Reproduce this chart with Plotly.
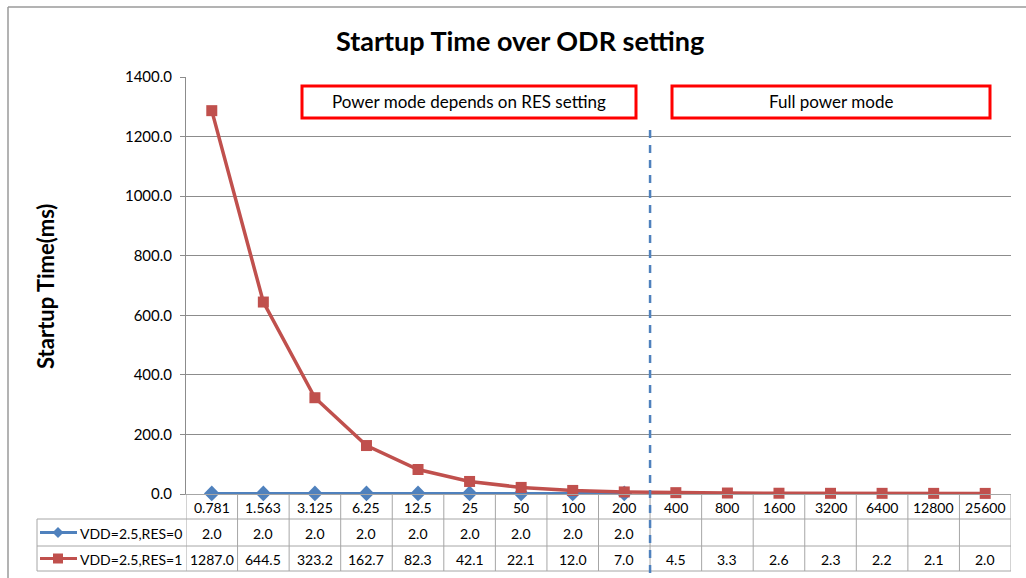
import plotly.graph_objects as go

# ---- data ----
odr_labels = ["0.781", "1.563", "3.125", "6.25", "12.5", "25", "50", "100", "200",
              "400", "800", "1600", "3200", "6400", "12800", "25600"]
res0_values = [2.0, 2.0, 2.0, 2.0, 2.0, 2.0, 2.0, 2.0, 2.0,
               None, None, None, None, None, None, None]
res1_values = [1287.0, 644.5, 323.2, 162.7, 82.3, 42.1, 22.1, 12.0, 7.0,
               4.5, 3.3, 2.6, 2.3, 2.2, 2.1, 2.0]
series_names = ["VDD=2.5,RES=0", "VDD=2.5,RES=1"]
y_ticks = [0, 200, 400, 600, 800, 1000, 1200, 1400]
mode_split_index = 8.5  # between ODR 200 and 400

W, H = 1026, 578
L, R, T, B = 186, 15, 77, 84
PW, PH = W - L - R, H - T - B
FONT = "Lato"
BLUE = "#4F81BD"
RED = "#C0504D"
GRID = "#8C8C8C"
TBL = "#A6A6A6"


def px(x):
    return (x - L) / PW


def py(y):
    return (H - B - y) / PH


xs = list(range(len(odr_labels)))

fig = go.Figure()
fig.add_trace(go.Scatter(
    x=xs, y=res0_values, name=series_names[0], mode="lines+markers",
    line=dict(color=BLUE, width=3),
    marker=dict(symbol="diamond", size=12, color=BLUE),
    connectgaps=False, cliponaxis=False))
fig.add_trace(go.Scatter(
    x=xs, y=res1_values, name=series_names[1], mode="lines+markers",
    line=dict(color=RED, width=3.5),
    marker=dict(symbol="square", size=11, color=RED),
    cliponaxis=False))

shapes = []
annotations = []


def ann(**kw):
    base = dict(showarrow=False, xanchor="center", yanchor="middle")
    base.update(kw)
    annotations.append(base)


# table geometry (pixels)
row_top = H - B          # axis line
row1_bot = 519
row2_bot = 546
row3_bot = 571
leg_left = 37

# vertical lines at category boundaries
for i in range(len(odr_labels) + 1):
    shapes.append(dict(type="line", xref="x", yref="paper",
                       x0=i - 0.5, x1=i - 0.5, y0=py(row_top), y1=py(row3_bot),
                       line=dict(color=TBL, width=1)))
# legend column left border
shapes.append(dict(type="line", xref="paper", yref="paper",
                   x0=px(leg_left), x1=px(leg_left), y0=py(row1_bot), y1=py(row3_bot),
                   line=dict(color=TBL, width=1)))
# horizontal table lines
for yy in (row1_bot, row2_bot, row3_bot):
    shapes.append(dict(type="line", xref="paper", yref="paper",
                       x0=px(leg_left), x1=1, y0=py(yy), y1=py(yy),
                       line=dict(color=TBL, width=1)))

# header labels + values
hdr_y = py((row_top + row1_bot) / 2 + 1)
r0_y = py((row1_bot + row2_bot) / 2 + 1)
r1_y = py((row2_bot + row3_bot) / 2 + 1)
cell_font = dict(family=FONT, size=14, color="black")
for i, lab in enumerate(odr_labels):
    ann(x=i, y=hdr_y, xref="x", yref="paper", text=lab, font=cell_font)
    if res0_values[i] is not None:
        ann(x=i, y=r0_y, xref="x", yref="paper", text=f"{res0_values[i]:.1f}", font=cell_font)
    if res1_values[i] is not None:
        ann(x=i, y=r1_y, xref="x", yref="paper", text=f"{res1_values[i]:.1f}", font=cell_font)

# legend keys inside table
for name, color, yc, sym in ((series_names[0], BLUE, (row1_bot + row2_bot) / 2, "diamond"),
                             (series_names[1], RED, (row2_bot + row3_bot) / 2, "square")):
    shapes.append(dict(type="line", xref="paper", yref="paper",
                       x0=px(40), x1=px(77), y0=py(yc), y1=py(yc),
                       line=dict(color=color, width=3)))
    cx = 58
    if sym == "diamond":
        s = 5.5
        path = (f"M {px(cx - s)} {py(yc)} L {px(cx)} {py(yc - s)} "
                f"L {px(cx + s)} {py(yc)} L {px(cx)} {py(yc + s)} Z")
        shapes.append(dict(type="path", xref="paper", yref="paper", path=path,
                           fillcolor=color, line=dict(color=color, width=0)))
    else:
        s = 5
        shapes.append(dict(type="rect", xref="paper", yref="paper",
                           x0=px(cx - s), x1=px(cx + s), y0=py(yc - s), y1=py(yc + s),
                           fillcolor=color, line=dict(color=color, width=0)))
    ann(x=px(78), y=py(yc + 1), xref="paper", yref="paper",
        xanchor="left", text=name, font=cell_font)

# vertical dashed split line
shapes.append(dict(type="line", xref="x", yref="paper",
                   x0=mode_split_index, x1=mode_split_index, y0=py(130), y1=py(577),
                   line=dict(color=BLUE, width=2.5, dash="8px,7px")))

# red mode boxes
for (x0, x1, txt) in ((302, 636, "Power mode depends on RES setting"),
                      (672, 990, "Full power mode")):
    shapes.append(dict(type="rect", xref="paper", yref="paper",
                       x0=px(x0), x1=px(x1), y0=py(86), y1=py(118),
                       fillcolor="white", line=dict(color="#FF0000", width=3)))
    ann(x=px((x0 + x1) / 2), y=py(102), xref="paper", yref="paper",
        text=txt, font=dict(family=FONT, size=17, color="black"))

# outer chart border (top/left)
shapes.append(dict(type="line", xref="paper", yref="paper",
                   x0=px(8), x1=px(1030), y0=py(7), y1=py(7),
                   line=dict(color="#9A9A9A", width=1.5)))
shapes.append(dict(type="line", xref="paper", yref="paper",
                   x0=px(8), x1=px(8), y0=py(7), y1=py(590),
                   line=dict(color="#9A9A9A", width=1.5)))

# title & y-axis title
ann(x=px(520), y=py(40), xref="paper", yref="paper",
    text="<b>Startup Time over ODR setting</b>",
    font=dict(family=FONT, size=27, color="black"))
ann(x=px(45), y=py(287), xref="paper", yref="paper",
    text="<b>Startup Time(ms)</b>", textangle=-90,
    font=dict(family=FONT, size=22, color="black"))

fig.update_layout(
    width=W, height=H,
    margin=dict(l=L, r=R, t=T, b=B, pad=0),
    paper_bgcolor="white", plot_bgcolor="white",
    showlegend=False,
    shapes=shapes, annotations=annotations,
    font=dict(family=FONT, color="black"),
)
fig.update_xaxes(range=[-0.5, len(odr_labels) - 0.5], showgrid=False, zeroline=False,
                 showline=True, linecolor=TBL, linewidth=1, showticklabels=False, ticks="")
fig.update_yaxes(range=[0, 1400], tickvals=y_ticks, tickformat=".1f",
                 showgrid=True, gridcolor=GRID, gridwidth=1, zeroline=False,
                 showline=True, linecolor=GRID, linewidth=1,
                 ticks="outside", ticklen=5, tickcolor=GRID,
                 tickfont=dict(family=FONT, size=15, color="black"),
                 ticklabelstandoff=5)

fig.write_html("out.html", config={"displayModeBar": False},
               post_script="document.body.style.margin='0';")
